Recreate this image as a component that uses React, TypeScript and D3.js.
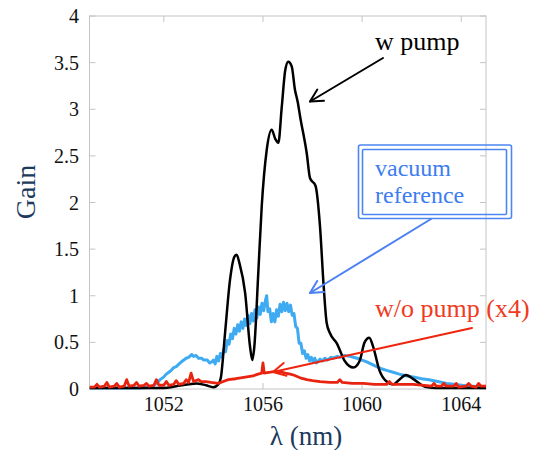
import React from "react";
import * as d3 from "d3";

// ---- data (wavelength nm, gain) ----
const wPump: [number, number][] = [
  [1049.0, 0.01], [1050.0, 0.01], [1051.0, 0.01], [1052.0, 0.01], [1052.5, 0.03],
  [1053.0, 0.05], [1053.3, 0.06], [1053.7, 0.04], [1054.0, 0.02], [1054.2, 0.05],
  [1054.3, 0.12], [1054.47, 0.6], [1054.67, 1.17], [1054.85, 1.42], [1054.94, 1.44],
  [1055.05, 1.35], [1055.28, 1.03], [1055.48, 0.45], [1055.57, 0.31], [1055.65, 0.45],
  [1055.81, 1.24], [1055.95, 1.96], [1056.15, 2.56], [1056.35, 2.78], [1056.5, 2.68],
  [1056.62, 2.64], [1056.76, 3.03], [1056.9, 3.42], [1057.02, 3.51], [1057.16, 3.46],
  [1057.29, 3.21], [1057.4, 3.08], [1057.5, 2.92], [1057.77, 2.52], [1057.9, 2.26],
  [1058.12, 2.18], [1058.3, 1.75], [1058.45, 1.1], [1058.57, 0.71], [1058.7, 0.6], [1058.98, 0.49],
  [1059.3, 0.3], [1059.65, 0.23], [1059.9, 0.3], [1060.1, 0.5], [1060.29, 0.55],
  [1060.45, 0.45], [1060.7, 0.2], [1060.99, 0.08], [1061.26, 0.05], [1061.5, 0.1],
  [1061.77, 0.15], [1062.1, 0.1], [1062.6, 0.02], [1063.0, 0.01], [1064.0, 0.01],
  [1065.0, 0.01],
];

const vacuumRef: [number, number][] = [
  [1049, 0.01], [1050, 0.01], [1051, 0.01], [1051.5, 0.02], [1051.7, 0.06],
  [1051.85, 0.1], [1052.0, 0.13], [1052.1, 0.16], [1052.2, 0.18], [1052.3, 0.2],
  [1052.4, 0.23], [1052.5, 0.24], [1052.66, 0.28], [1052.75, 0.3], [1052.9, 0.33],
  [1053.0, 0.34], [1053.13, 0.37], [1053.2, 0.35], [1053.3, 0.36], [1053.4, 0.33],
  [1053.53, 0.33], [1053.6, 0.31], [1053.75, 0.31], [1053.85, 0.28], [1053.93, 0.29],
  [1054.0, 0.31], [1054.07, 0.27], [1054.14, 0.35], [1054.21, 0.3], [1054.28, 0.38],
  [1054.35, 0.34], [1054.42, 0.43], [1054.49, 0.4], [1054.56, 0.52], [1054.63, 0.48],
  [1054.7, 0.59], [1054.77, 0.54], [1054.84, 0.65], [1054.91, 0.59], [1054.98, 0.69],
  [1055.05, 0.62], [1055.12, 0.72], [1055.19, 0.65], [1055.26, 0.75], [1055.33, 0.68],
  [1055.4, 0.79], [1055.47, 0.7], [1055.54, 0.81], [1055.61, 0.73], [1055.68, 0.85],
  [1055.75, 0.76], [1055.82, 0.88], [1055.89, 0.8], [1055.96, 0.92], [1056.03, 0.84],
  [1056.1, 0.95], [1056.15, 1.0], [1056.2, 0.83], [1056.27, 0.86], [1056.34, 0.72],
  [1056.41, 0.81], [1056.48, 0.72], [1056.55, 0.85], [1056.62, 0.78], [1056.69, 0.91],
  [1056.76, 0.83], [1056.83, 0.93], [1056.9, 0.84], [1056.97, 0.92], [1057.04, 0.83],
  [1057.11, 0.9], [1057.18, 0.79], [1057.25, 0.81], [1057.32, 0.67], [1057.39, 0.65],
  [1057.46, 0.49], [1057.53, 0.49], [1057.6, 0.38], [1057.67, 0.41], [1057.74, 0.33],
  [1057.81, 0.37], [1057.88, 0.3], [1057.95, 0.34], [1058.02, 0.29], [1058.09, 0.33],
  [1058.16, 0.28], [1058.3, 0.32], [1058.4, 0.3], [1058.5, 0.33], [1058.6, 0.31],
  [1058.75, 0.34], [1058.84, 0.33], [1059.0, 0.35], [1059.1, 0.34], [1059.3, 0.36],
  [1059.51, 0.35], [1059.65, 0.34], [1059.8, 0.33], [1060.0, 0.31], [1060.19, 0.29],
  [1060.5, 0.25], [1060.75, 0.22], [1060.99, 0.2], [1061.25, 0.18], [1061.5, 0.16],
  [1061.8, 0.14], [1062.06, 0.13], [1062.4, 0.11], [1062.7, 0.1], [1063.05, 0.08],
  [1063.41, 0.06], [1063.7, 0.05], [1064.0, 0.04], [1064.48, 0.03], [1065.0, 0.02],
];

const woPump: [number, number][] = [
  [1049.0, 0.02], [1049.2, 0.02], [1049.3, 0.05], [1049.4, 0.02], [1049.6, 0.03],
  [1049.7, 0.07], [1049.8, 0.02], [1050.0, 0.03], [1050.1, 0.06], [1050.2, 0.02],
  [1050.4, 0.03], [1050.5, 0.1], [1050.6, 0.03], [1050.8, 0.04], [1050.9, 0.07],
  [1051.0, 0.03], [1051.2, 0.04], [1051.3, 0.06], [1051.4, 0.03], [1051.6, 0.04],
  [1051.7, 0.1], [1051.8, 0.04], [1052.0, 0.04], [1052.1, 0.08], [1052.2, 0.04],
  [1052.4, 0.05], [1052.5, 0.09], [1052.6, 0.05], [1052.8, 0.06], [1052.9, 0.1],
  [1053.0, 0.07], [1053.1, 0.17], [1053.2, 0.08], [1053.4, 0.1], [1053.5, 0.08],
  [1053.7, 0.08], [1053.9, 0.07], [1054.2, 0.06], [1054.4, 0.08], [1054.6, 0.1],
  [1054.9, 0.11], [1055.1, 0.12], [1055.35, 0.13], [1055.6, 0.14], [1055.8, 0.16],
  [1055.95, 0.17], [1056.0, 0.28], [1056.05, 0.17], [1056.3, 0.18], [1056.5, 0.19],
  [1056.7, 0.185], [1056.9, 0.17], [1057.1, 0.16], [1057.23, 0.15], [1057.5, 0.12],
  [1057.77, 0.1], [1058.0, 0.09], [1058.3, 0.08], [1058.7, 0.07], [1059.0, 0.07],
  [1059.1, 0.1], [1059.2, 0.07], [1059.6, 0.06], [1060.05, 0.06], [1060.5, 0.05],
  [1061.0, 0.05], [1061.1, 0.08], [1061.2, 0.05], [1061.6, 0.05], [1062.06, 0.05],
  [1062.5, 0.04], [1062.8, 0.03], [1062.9, 0.06], [1063.0, 0.03], [1063.2, 0.03],
  [1063.3, 0.06], [1063.4, 0.03], [1063.7, 0.03], [1063.8, 0.06], [1063.9, 0.02],
  [1064.2, 0.03], [1064.3, 0.06], [1064.4, 0.03], [1064.6, 0.02], [1064.7, 0.06],
  [1064.8, 0.03], [1065.0, 0.03],
];

const xTicks = [1052, 1056, 1060, 1064];
const yTicks = [0, 0.5, 1, 1.5, 2, 2.5, 3, 3.5, 4];
const xDomain: [number, number] = [1049, 1065];
const yDomain: [number, number] = [0, 4];

const W = 542;
const H = 450;
const M = { left: 89.5, right: 486, top: 16, bottom: 389 };

const FONT = "'Liberation Serif', 'DejaVu Serif', serif";
const tf = { fontFamily: FONT };

function Arrow({ x1, y1, x2, y2, color, width = 2, head = 14 }: any) {
  const ang = Math.atan2(y2 - y1, x2 - x1);
  const a1 = ang + Math.PI - Math.PI / 6.5;
  const a2 = ang + Math.PI + Math.PI / 6.5;
  const p1 = [x2 + head * Math.cos(a1), y2 + head * Math.sin(a1)];
  const p2 = [x2 + head * Math.cos(a2), y2 + head * Math.sin(a2)];
  return (
    <g stroke={color} strokeWidth={width} fill="none" strokeLinecap="round" strokeLinejoin="round">
      <line x1={x1} y1={y1} x2={x2} y2={y2} />
      <polyline points={`${p1[0]},${p1[1]} ${x2},${y2} ${p2[0]},${p2[1]}`} />
    </g>
  );
}

export default function App() {
  const x = d3.scaleLinear().domain(xDomain).range([M.left, M.right]);
  const y = d3.scaleLinear().domain(yDomain).range([M.bottom, M.top]);
  const line = d3
    .line<[number, number]>()
    .x((d) => x(d[0]))
    .y((d) => y(d[1]));
  const smooth = d3
    .line<[number, number]>()
    .x((d) => x(d[0]))
    .y((d) => y(d[1]))
    .curve(d3.curveMonotoneX);

  const axisColor = "#c4c4c4";
  const tickLen = 6;

  return (
    <svg
      width={W}
      height={H}
      style={{ position: "absolute", left: 0, top: 0, background: "#fff" }}
    >
      <defs>
        <clipPath id="plotclip">
          <rect x={M.left} y={M.top - 2} width={M.right - M.left} height={M.bottom - M.top + 4} />
        </clipPath>
      </defs>

      {/* frame */}
      <rect
        x={M.left}
        y={M.top}
        width={M.right - M.left}
        height={M.bottom - M.top}
        fill="none"
        stroke={axisColor}
        strokeWidth={1}
      />
      {/* ticks */}
      {xTicks.map((t) => (
        <g key={"xt" + t} stroke={axisColor} strokeWidth={1}>
          <line x1={x(t)} x2={x(t)} y1={M.bottom} y2={M.bottom - tickLen} />
          <line x1={x(t)} x2={x(t)} y1={M.top} y2={M.top + tickLen} />
        </g>
      ))}
      {yTicks.map((t) => (
        <g key={"yt" + t} stroke={axisColor} strokeWidth={1}>
          <line x1={M.left} x2={M.left + tickLen} y1={y(t)} y2={y(t)} />
          <line x1={M.right} x2={M.right - tickLen} y1={y(t)} y2={y(t)} />
        </g>
      ))}
      {/* tick labels */}
      {xTicks.map((t) => (
        <text key={"xl" + t} x={x(t)} y={411} textAnchor="middle" fontSize={20} fill="#111" style={tf}>
          {t}
        </text>
      ))}
      {yTicks.map((t) => (
        <text key={"yl" + t} x={79} y={y(t)} dy="0.35em" textAnchor="end" fontSize={20} fill="#111" style={tf}>
          {String(t)}
        </text>
      ))}

      {/* axis titles */}
      <text
        transform={`translate(35,192) rotate(-90)`}
        textAnchor="middle"
        fontSize={28}
        fill="#1b3a5c"
        style={tf}
      >
        Gain
      </text>
      <text x={306} y={445} textAnchor="middle" fontSize={27} fill="#1b3a5c" style={tf}>
        λ (nm)
      </text>

      {/* curves */}
      <g clipPath="url(#plotclip)" fill="none" strokeLinejoin="round">
        <path d={line(vacuumRef) || ""} stroke="#3eaaf2" strokeWidth={3} />
        <path d={smooth(wPump) || ""} stroke="#000" strokeWidth={2.5} />
        <path d={line(woPump) || ""} stroke="#e8230f" strokeWidth={2.8} />
      </g>

      {/* annotations */}
      <text x={375} y={50} fontSize={26} fill="#000" style={tf}>
        w pump
      </text>
      <Arrow x1={383} y1={58} x2={310} y2={101.5} color="#000" width={2} />

      <rect x={358.5} y={145} width={153} height={73.5} rx={2} fill="none" stroke="#4d86f2" strokeWidth={1.6} />
      <rect x={362.5} y={149.5} width={144} height={65} rx={1} fill="none" stroke="#4d86f2" strokeWidth={1.6} />
      <text x={375} y={176} fontSize={24} fill="#3d7df0" style={tf}>
        vacuum
      </text>
      <text x={375} y={203} fontSize={24} fill="#3d7df0" style={tf}>
        reference
      </text>
      <Arrow x1={431} y1={219} x2={310} y2={293} color="#4d80f2" width={2} />

      <text x={375} y={317} fontSize={26} fill="#f03a22" style={tf}>
        w/o pump (x4)
      </text>
      <Arrow x1={472} y1={328} x2={273} y2={372} color="#f0250f" width={2} />
    </svg>
  );
}
